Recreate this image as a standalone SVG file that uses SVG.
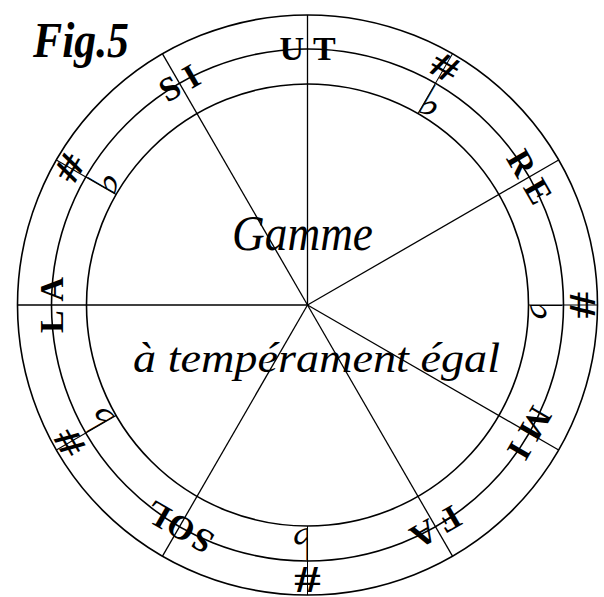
<svg xmlns="http://www.w3.org/2000/svg" width="604" height="597" viewBox="0 0 604 597">
<style>
.ring{fill:none;stroke:#000;stroke-width:1.6}
.rad{stroke:#000;stroke-width:1.3}
.tick{stroke:#000;stroke-width:1}
.note{font-family:"Liberation Serif",serif;font-weight:bold;font-size:34px;text-anchor:middle;fill:#000}
.sharp{font-family:"Liberation Serif",serif;font-weight:bold;font-size:38px;text-anchor:middle;dominant-baseline:central;fill:#000}
.flat{font-family:"DejaVu Sans",sans-serif;font-weight:bold;font-size:44px;dominant-baseline:central;fill:#000}
.script{font-family:"Liberation Serif",serif;font-style:italic;fill:#000}
</style>
<rect width="604" height="597" fill="#fff"/>
<g id="title">
<text class="script" x="33" y="57" font-size="50" font-weight="bold" textLength="96" lengthAdjust="spacingAndGlyphs">Fig.5</text>
</g>
<g id="circles" transform="translate(307.5,305)">
<circle class="ring" r="290"/>
<circle class="ring" r="256"/>
<circle class="ring" r="221"/>
</g>
<g id="connectors" transform="translate(307.5,305)">
<line class="rad" x1="0" y1="0" x2="0" y2="-290" transform="rotate(0)"/>
<line class="rad" x1="0" y1="0" x2="0" y2="-290" transform="rotate(60)"/>
<line class="rad" x1="0" y1="0" x2="0" y2="-290" transform="rotate(120)"/>
<line class="rad" x1="0" y1="0" x2="0" y2="-290" transform="rotate(150)"/>
<line class="rad" x1="0" y1="0" x2="0" y2="-290" transform="rotate(210)"/>
<line class="rad" x1="0" y1="0" x2="0" y2="-290" transform="rotate(270)"/>
<line class="rad" x1="0" y1="0" x2="0" y2="-290" transform="rotate(330)"/>
<line class="tick" x1="0" y1="-221" x2="0" y2="-290" transform="rotate(30)"/>
<line class="tick" x1="0" y1="-221" x2="0" y2="-290" transform="rotate(90)"/>
<line class="tick" x1="0" y1="-221" x2="0" y2="-290" transform="rotate(180)"/>
<line class="tick" x1="0" y1="-221" x2="0" y2="-290" transform="rotate(240)"/>
<line class="tick" x1="0" y1="-221" x2="0" y2="-290" transform="rotate(300)"/>
</g>
<g id="notes" transform="translate(307.5,305)">
<g id="ut" transform="rotate(0)"><text class="note" x="0" y="-245" letter-spacing="9" dx="4.5">UT</text></g>
<g id="re" transform="rotate(60)"><text class="note" x="0" y="-245" letter-spacing="9" dx="4.5">RE</text></g>
<g id="mi" transform="rotate(120)"><text class="note" x="0" y="-245" letter-spacing="9" dx="4.5">MI</text></g>
<g id="fa" transform="rotate(150)"><text class="note" x="0" y="-245" letter-spacing="9" dx="4.5">FA</text></g>
<g id="sol" transform="rotate(210)"><text class="note" x="0" y="-245" letter-spacing="2" dx="1">SOL</text></g>
<g id="la" transform="rotate(270)"><text class="note" x="0" y="-245" letter-spacing="9" dx="4.5">LA</text></g>
<g id="si" transform="rotate(330)"><text class="note" x="0" y="-245" letter-spacing="9" dx="4.5">SI</text></g>
</g>
<g id="accidentals" transform="translate(307.5,305)">
<g id="acc30" transform="rotate(30)"><text class="sharp" transform="translate(0,-275) scale(1.4,1)">#</text><text class="flat" transform="translate(-4,-238)">♭</text></g>
<g id="acc90" transform="rotate(90)"><text class="sharp" transform="translate(0,-275) scale(1.4,1)">#</text><text class="flat" transform="translate(-4,-238)">♭</text></g>
<g id="acc180" transform="rotate(180)"><text class="sharp" transform="translate(0,-275) scale(1.4,1)">#</text><text class="flat" transform="translate(-4,-238)">♭</text></g>
<g id="acc240" transform="rotate(240)"><text class="sharp" transform="translate(0,-275) scale(1.4,1)">#</text><text class="flat" transform="translate(-4,-238)">♭</text></g>
<g id="acc300" transform="rotate(300)"><text class="sharp" transform="translate(0,-275) scale(1.4,1)">#</text><text class="flat" transform="translate(-4,-238)">♭</text></g>
</g>
<g id="labels">
<text class="script" x="232" y="250" font-size="50" textLength="141" lengthAdjust="spacingAndGlyphs">Gamme</text>
<text class="script" x="133" y="372" font-size="42" textLength="367" lengthAdjust="spacingAndGlyphs">à tempérament égal</text>
</g>
</svg>
